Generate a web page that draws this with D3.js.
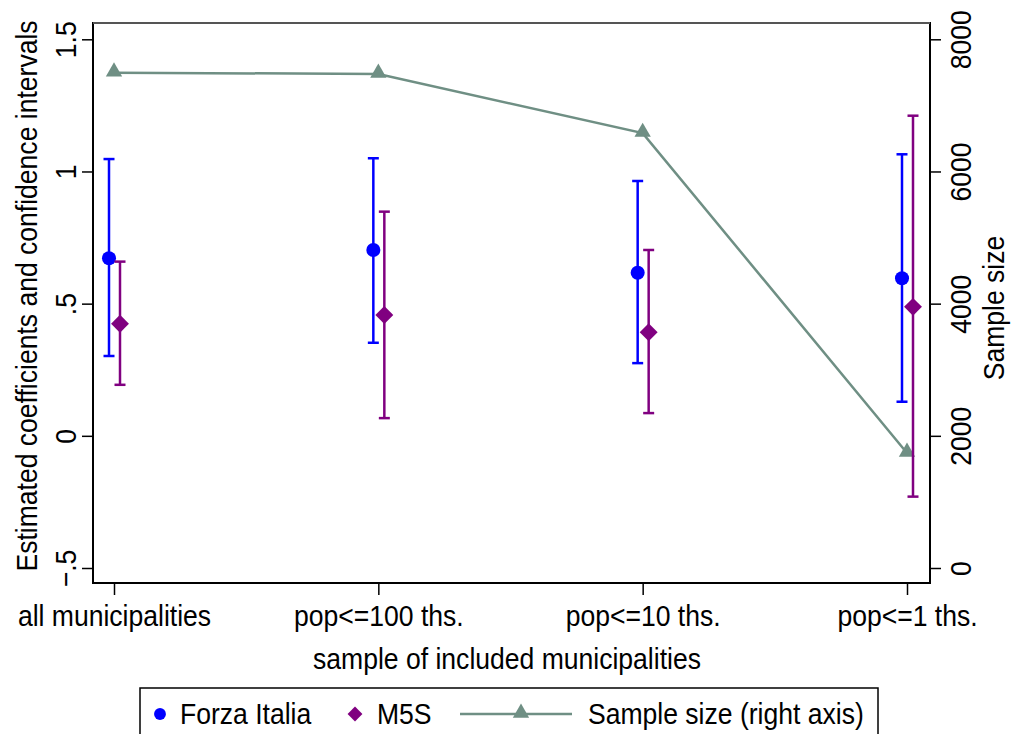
<!DOCTYPE html>
<html>
<head>
<meta charset="utf-8">
<script src="https://cdn.jsdelivr.net/npm/d3@7"></script>
<style>
body { margin:0; background:#fff; }
text { font-family: "Liberation Sans", Arial, sans-serif; fill:#000; }
</style>
</head>
<body>
<svg id="chart" width="1011" height="734"></svg>
<script>
// data
var categories = ["all municipalities", "pop<=100 ths.", "pop<=10 ths.", "pop<=1 ths."];
var fiCoef = [0.672, 0.703, 0.617, 0.596];
var fiLow  = [0.302, 0.352, 0.275, 0.129];
var fiHigh = [1.047, 1.050, 0.964, 1.065];
var m5Coef = [0.424, 0.457, 0.392, 0.488];
var m5Low  = [0.193, 0.067, 0.086, -0.230];
var m5High = [0.659, 0.848, 0.703, 1.211];
var sampleSize = [7495, 7475, 6580, 1740];
var leftTicks = [-0.5, 0, 0.5, 1, 1.5];
var rightTicks = [0, 2000, 4000, 6000, 8000];

var svg = d3.select("#chart");
var frame = {left:93, right:930, top:23, bottom:583};

var x = d3.scalePoint().domain(categories).range([114, 907]);
var yL = d3.scaleLinear().domain([-0.5, 1.5]).range([568, 39.3]);
var yR = d3.scaleLinear().domain([0, 8000]).range([568, 39.3]);

// stata text is a bit narrow, so squeeze a taller font
var fs = 29.5, sx = 0.9;
var squeeze = " scale(" + sx + ",1)";

// frame
svg.append("rect")
    .attr("x", frame.left).attr("y", frame.top)
    .attr("width", frame.right - frame.left).attr("height", frame.bottom - frame.top)
    .attr("fill", "none").attr("stroke", "#000").attr("stroke-width", 2);
svg.append("line").attr("x1",frame.left).attr("x2",frame.right).attr("y1",frame.top).attr("y2",frame.top)
    .attr("stroke","#555").attr("stroke-width",2);

// left axis
var gl = svg.append("g").attr("transform", "translate(" + frame.left + ",0)");
gl.call(d3.axisLeft(yL).tickValues(leftTicks).tickSize(11).tickSizeOuter(0)
    .tickFormat(function(d){ return d3.format("")(d).replace("0.", "."); }));
gl.select(".domain").remove();
gl.selectAll(".tick line").attr("stroke","#000").attr("stroke-width",1.5);
gl.selectAll(".tick text").attr("font-size", fs).attr("font-family","Liberation Sans")
    .attr("transform","rotate(-90)" + squeeze).attr("x",0).attr("y",-17).attr("dy",0).attr("dx",0)
    .attr("text-anchor","middle").attr("fill","#000");

// right axis
var gr = svg.append("g").attr("transform", "translate(" + frame.right + ",0)");
gr.call(d3.axisRight(yR).tickValues(rightTicks).tickSize(11).tickSizeOuter(0)
    .tickFormat(d3.format("d")));
gr.select(".domain").remove();
gr.selectAll(".tick line").attr("stroke","#000").attr("stroke-width",1.5);
gr.selectAll(".tick text").attr("font-size", fs).attr("font-family","Liberation Sans")
    .attr("transform","rotate(-90)" + squeeze).attr("x",0).attr("y",41).attr("dy",0).attr("dx",0)
    .attr("text-anchor","middle").attr("fill","#000");

// bottom axis
var gb = svg.append("g").attr("transform", "translate(0," + frame.bottom + ")");
gb.call(d3.axisBottom(x).tickSize(12).tickSizeOuter(0));
gb.select(".domain").remove();
gb.selectAll(".tick line").attr("stroke","#000").attr("stroke-width",1.5);
gb.selectAll(".tick text").attr("font-size", fs).attr("font-family","Liberation Sans")
    .attr("transform", squeeze).attr("y", 43).attr("dy",0).attr("fill","#000");

// axis titles
svg.append("text").attr("transform","translate(37,296) rotate(-90)" + squeeze)
    .attr("text-anchor","middle").attr("font-size", fs)
    .text("Estimated coefficients and confidence intervals");
svg.append("text").attr("transform","translate(1004,308) rotate(-90)" + squeeze)
    .attr("text-anchor","middle").attr("font-size", fs)
    .text("Sample size");
svg.append("text").attr("transform","translate(507,669)" + squeeze)
    .attr("text-anchor","middle").attr("font-size", fs)
    .text("sample of included municipalities");

// sample size line
var green = "#6f8f84";
var line = d3.line().x(function(d,i){ return x(categories[i]); }).y(function(d){ return yR(d); });
svg.append("path").datum(sampleSize).attr("d", line)
    .attr("fill","none").attr("stroke",green).attr("stroke-width",2.5);
var tri = d3.symbol().type(d3.symbolTriangle).size(115);
svg.selectAll(".tri").data(sampleSize).enter().append("path")
    .attr("d", tri)
    .attr("transform", function(d,i){ return "translate(" + x(categories[i]) + "," + (yR(d)-1) + ")"; })
    .attr("fill", green);

// error bars
function drawSeries(coef, lo, hi, off, color, shape, size) {
    var g = svg.append("g");
    var cap = 5.5;
    var rows = coef.map(function(c,i){ return {cat:categories[i], c:c, lo:lo[i], hi:hi[i]}; });
    var sel = g.selectAll("g").data(rows).enter().append("g")
        .attr("transform", function(d){ return "translate(" + (x(d.cat)+off) + ",0)"; });
    sel.append("line").attr("x1",0).attr("x2",0)
        .attr("y1", function(d){ return yL(d.lo); }).attr("y2", function(d){ return yL(d.hi); })
        .attr("stroke", color).attr("stroke-width", 2.5);
    sel.append("line").attr("x1",-cap).attr("x2",cap)
        .attr("y1", function(d){ return yL(d.lo); }).attr("y2", function(d){ return yL(d.lo); })
        .attr("stroke", color).attr("stroke-width", 2.5);
    sel.append("line").attr("x1",-cap).attr("x2",cap)
        .attr("y1", function(d){ return yL(d.hi); }).attr("y2", function(d){ return yL(d.hi); })
        .attr("stroke", color).attr("stroke-width", 2.5);
    sel.append("path").attr("d", d3.symbol().type(shape).size(size))
        .attr("transform", function(d){ return "translate(0," + yL(d.c) + ")" + (shape === d3.symbolSquare ? " rotate(45)" : ""); })
        .attr("fill", color);
}
drawSeries(fiCoef, fiLow, fiHigh, -5, "#0000ff", d3.symbolCircle, 155);
drawSeries(m5Coef, m5Low, m5High, 6, "#800080", d3.symbolSquare, 160);

// legend
var lg = svg.append("g");
lg.append("rect").attr("x",140).attr("y",688).attr("width",738).attr("height",60)
    .attr("fill","#fff").attr("stroke","#000").attr("stroke-width",1.5);
lg.append("path").attr("d", d3.symbol().type(d3.symbolCircle).size(110))
    .attr("transform","translate(160,714)").attr("fill","#0000ff");
lg.append("text").attr("transform","translate(180,724)" + squeeze).attr("font-size",fs).text("Forza Italia");
lg.append("path").attr("d", d3.symbol().type(d3.symbolSquare).size(110))
    .attr("transform","translate(355,714) rotate(45)").attr("fill","#800080");
lg.append("text").attr("transform","translate(377,724)" + squeeze).attr("font-size",fs).text("M5S");
lg.append("line").attr("x1",460).attr("x2",572).attr("y1",714).attr("y2",714)
    .attr("stroke",green).attr("stroke-width",2.5);
lg.append("path").attr("d", tri).attr("transform","translate(521,713)").attr("fill",green);
lg.append("text").attr("transform","translate(588,724)" + squeeze).attr("font-size",fs).text("Sample size (right axis)");
</script>
</body>
</html>
